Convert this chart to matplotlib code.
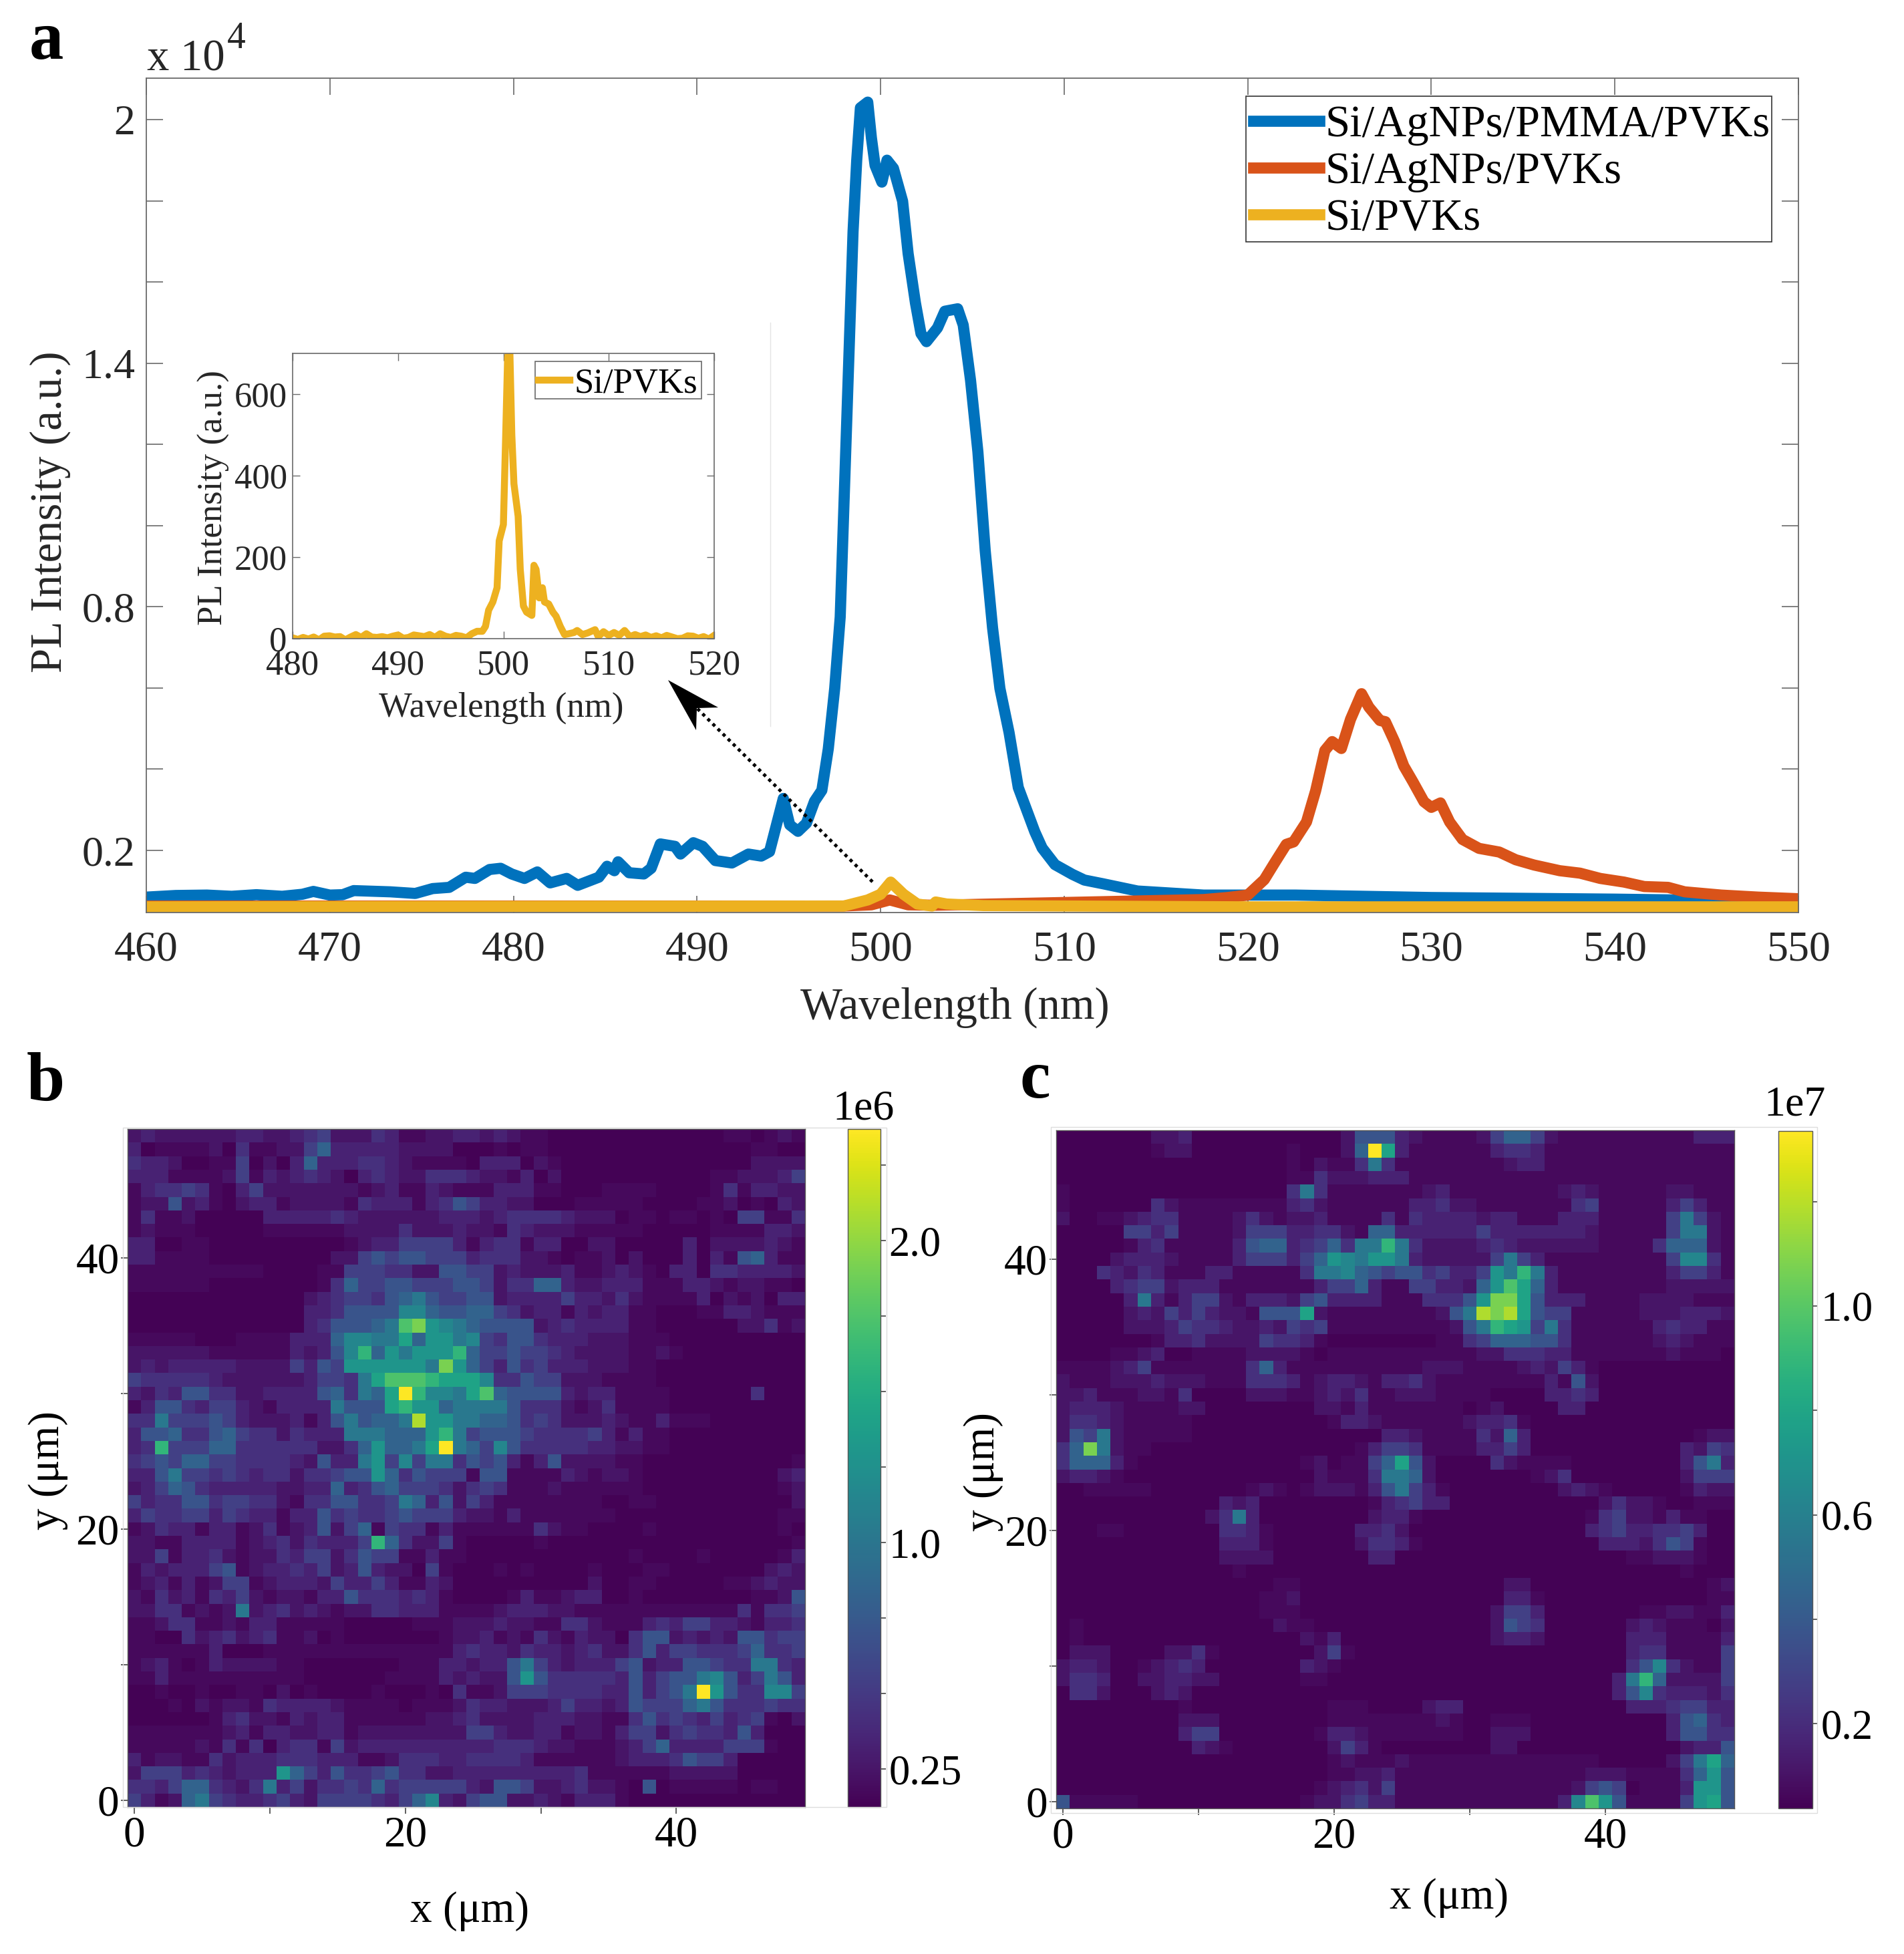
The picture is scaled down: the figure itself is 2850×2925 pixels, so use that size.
import matplotlib
matplotlib.use("Agg")
import matplotlib.pyplot as plt
import numpy as np
from matplotlib.lines import Line2D
from matplotlib.patches import Polygon, Rectangle
from matplotlib.ticker import FixedLocator, FixedFormatter

plt.rcParams["font.family"] = ["Liberation Serif", "DejaVu Serif"]

W, H = 2850, 2925
BLUE = "#0072BD"
ORANGE = "#D95319"
YELLOW = "#EDB120"
TXT = "#262626"
EDGE = "#6a6a6a"

# main spectra, intensity in units of 1e4
blue_x = [460, 461.6, 463.3, 464.65, 466, 467.4, 468.5, 469.1, 470, 470.7, 471.3, 473.3, 474.65, 475.6,
          476.5, 477.4, 477.9, 478.7, 479.3, 479.9, 480.6, 481.3, 482, 482.9, 483.5, 484.65, 485.1, 485.5,
          485.7, 486.3, 487.1, 487.5, 488, 488.8, 489.1, 489.8, 490.3, 491, 491.9, 492.8, 493.5, 493.95,
          494.7, 495.05, 495.5, 495.96, 496.4, 496.8, 497.15, 497.5, 497.8, 498, 498.3, 498.5, 498.7,
          498.9, 499.3, 499.5, 499.7, 500.07, 500.35, 500.7, 501.2, 501.5, 501.9, 502.2, 502.5, 503.1,
          503.5, 504.2, 504.5, 504.9, 505.3, 505.7, 506.1, 506.5, 507, 507.5, 508.4, 508.8, 509.5, 510.45,
          511.1, 512.1, 514, 517.6, 522.6, 530, 540, 545, 550]
blue_y = [.085, .089, .090, .087, .091, .087, .092, .099, .090, .091, .101, .098, .094, .106,
          .109, .134, .131, .153, .156, .142, .131, .147, .120, .131, .114, .134, .161, .150,
          .172, .145, .142, .156, .216, .210, .191, .219, .210, .175, .169, .191, .186, .197,
          .328, .263, .247, .267, .321, .348, .450, .599, .775, 1.046, 1.453, 1.724, 1.9,
          2.029, 2.043, 1.955, 1.887, 1.846, 1.9, 1.88, 1.799, 1.67, 1.548, 1.473, 1.453, 1.487,
          1.528, 1.534, 1.494, 1.358, 1.182, .938, .748, .599, .49, .355, .246, .206, .165, .141,
          .127, .118, .1, .09, .09, .084, .08, .077, .072]

orange_x = [460, 498, 499.5, 500.5, 501.5, 503, 517.6, 518.9, 520, 520.9, 521.5, 522.1, 522.5, 523.2, 523.7,
            524.2, 524.6, 525.1, 525.6, 526.2, 526.6, 527.2, 527.5, 528, 528.5, 529, 529.6, 530, 530.5,
            531, 531.7, 532.6, 533.7, 534.6, 535.6, 537, 538.1, 539.2, 540.5, 541.6, 542.9, 543.8, 545.8,
            547.8, 550]
orange_y = [.063, .063, .066, .078, .066, .065, .079, .084, .09, .128, .172, .215, .221, .27, .347,
            .446, .468, .451, .523, .586, .553, .52, .517, .468, .408, .369, .32, .306, .317,
            .27, .227, .205, .196, .177, .164, .15, .144, .131, .122, .111, .109, .098, .09,
            .085, .081]

yellow_x = [460, 498, 499.3, 500, 500.55, 501.25, 502, 502.8, 503, 503.6, 505.6, 520, 550]
yellow_y = [.061, .063, .078, .092, .122, .092, .068, .063, .073, .068, .064, .061, .061]

# inset, Si/PVKs only
inset_x = [480, 480.5, 481, 481.5, 482, 482.5, 483, 483.5, 484, 484.5, 485, 485.5, 486, 486.5, 487, 487.5,
           488, 488.5, 489, 489.5, 490, 490.5, 491, 491.5, 492, 492.5, 493, 493.5, 494, 494.5, 495, 495.5,
           496, 496.5, 497, 497.5, 498, 498.3, 498.6, 499, 499.4, 499.6, 500, 500.2, 500.4, 500.6, 500.8,
           501, 501.4, 501.6, 501.9, 502.2, 502.7, 502.9, 503.1, 503.4, 503.7, 503.9, 504.3, 504.7, 505,
           505.4, 505.8, 506.2, 506.7, 507, 507.5, 508, 508.7, 509, 509.5, 510, 510.5, 511, 511.5, 512,
           512.5, 513, 513.5, 514, 514.5, 515, 515.5, 516, 516.5, 517, 517.5, 518, 518.5, 519, 519.5, 520]
inset_y = [2, -2, 3, -1, 4, -3, 6, 7, 4, 5, -3, 4, 10, 3, 12, 4,
           3, 5, 2, 6, 9, 1, 3, 9, 7, 5, 10, 3, 12, 6, 3, 8,
           6, 2, 12, 18, 18, 30, 70, 90, 125, 240, 280, 480, 690, 720, 500,
           380, 300, 170, 80, 65, 57, 180, 170, 100, 125, 90, 85, 65, 55,
           30, 10, 12, 15, 20, 10, 14, 22, 5, 17, 8, 15, 8, 20, 5,
           10, 5, 9, 3, 7, 2, 8, 4, 0, 1, 7, 6, 1, 5, -1, 8]

# colour levels, top row (y=49) first
LEVEL = dict(zip("0123456789abcdefg",
                 [.005, .025, .055, .095, .14, .19, .26, .32, .4, .46, .52, .58, .66, .72, .8, .88, 1]))

map_b = """
2322222233 2234522243 1122332321 1000000000 0000110121
3011112041 1225733333 2222000101 1000000000 0000001100
4332001150 2037333443 2111103330 2100000000 0000002222
3331111251 3234320343 2244432213 0200000000 0001122235
1344541035 2222222123 1132111333 1100011110 0001413322
1226231023 3122221433 3134653322 0001111100 0011201032
1411200000 3333343222 2223332344 4432220110 1101055114
1211100000 1111112222 4222322143 2221111100 0001111332
3300110000 0000001233 5555313441 3300220000 0302222321
3311110000 0000022565 6655534442 2101120200 0303167311
1111111111 0000115554 4226655232 2231123210 3304433332
1111110000 0000147556 6555665244 7732233311 1332122110
0000000000 0002345546 7865566233 3353324211 1130212033
0000000000 0003346666 9976677542 3313233110 0011332111
0000000000 0003466678 dea9876666 2343333110 0000022412
1111100011 1133379988 b7aa895466 4333222111 0000000000
2222221111 1132369c7a 8aaac75565 5432222112 1000000000
2323333322 225365aaaa aa8ea75364 5333222110 0000000000
5444443222 22235548bd ddcbbb9446 5522211110 0000000000
3243664422 333367487b gc998bd766 6632331111 0000004000
1366435532 133338666b caa7888864 4421241111 0000000000
4485556532 2231368677 8faa887764 5422232113 1110000000
3667446754 4243338887 77ac856665 4444531311 0000000000
34c5557744 44442247a7 78bg875964 4444332211 0000000000
4565775544 44326338a5 9588465631 3622221100 0000000001
3368554543 44244566a7 4655516611 1132122100 0000000023
2357643333 3223373467 5554245411 1211111100 0000000012
5344664554 4214466445 8736253111 1111100110 0000000002
3544553543 3133645445 6555322131 1111110000 0000000011
1243313312 4123625715 4413111111 4211000010 0000000010
2211333312 34243335c7 4225100000 1000000000 0000000001
2251334212 2435524655 1131100000 0000000100 0010000013
1323335612 3343523632 2051000101 0000100011 0000000232
1231312551 2333253353 1132000000 0000200110 0000112322
2142314352 1221336444 3431000013 1123300100 0000001126
2244121282 3423212244 3331111233 3221111111 1111141445
1124411213 3111110000 0111222322 1144211134 3553321334
1100423423 4112010000 0001223121 4213220466 2323266455
1111113000 1111111111 1111343324 3323422463 5544457445
1231013222 2110000000 1113323368 5323335623 3665448843
1131111111 1110000001 111323226a 6444443635 6689635863
0010010011 0201000010 0010411255 5444433635 68ga644995
0001021221 4333321111 0111243322 2353323655 5786444544
0000001342 2132331111 1122342222 3332211464 5435345102
1111111231 3322331222 2222255322 3312213552 4544363000
1111121414 0344152333 3333333444 3221112357 3333555100
3122114233 3444333112 4443344443 1111112333 4655300000
2555343233 3a75364456 4422333333 3334111111 2222200000
4435774324 8352445474 5555532665 2234221060 1111101100
5312785433 4532555543 5793256622 3213331000 0000000000
"""

map_c = """
0000000223 0000000000 0266632111 1257752111 1111111333
0000000122 0000000100 027gb31111 1134431111 1111111111
0000000000 0000000102 1148411111 1112331111 1111111111
0000000000 0000000114 2223331111 1111111111 1111111111
1000000000 0000000484 1111111231 1111111232 1111122111
1000000421 1111111342 1111113342 2111111145 1111135311
2001123441 1112421223 1111414333 3233111333 1111158521
0000055351 1112555334 4217733333 3533333332 1111158821
0000013411 1113677345 7488c84222 2343222222 1111477721
0000233321 1113555357 a98aa83222 2258531111 1111159941
0004324311 1331111148 8976566453 35a8c83111 1111135531
0000345523 3311111113 5573115533 27adb73111 1111122222
0000038313 5521333256 3333111444 6aeeb63331 1112222111
0000023253 53221666b2 1111111126 8fefb65511 1112223332
0000022235 4432232545 1111111112 68cba58411 1111343311
0000000133 4222254431 0000000011 4577766411 1111232111
0000112300 1111222210 1111111111 1224443311 1111121110
1111235111 1111473111 1111111222 1111232531 0000000000
2111222322 2111444312 3321334211 1111113162 0000000000
2231112214 0000222112 3241122211 1100003343 0000000000
2333211112 2000000002 2131111111 0120000330 0000000000
2443211111 0000000000 1332111111 2334100000 0000000000
2658211111 0000000000 0000332111 1427300000 0000000122
47e8211000 0000000000 0013554111 1335300000 0000003254
4777310000 0000000012 01157b6200 0042111100 0000003683
2332100000 0000000002 1114887200 0000012400 0000002555
0011111000 0000121012 2213685310 0000000232 1000001322
0000000000 0032300000 0001345330 0000000000 2422100111
0000000000 0248300000 0002331000 0000000001 4522131100
0001100000 0044310000 0033420000 0000000003 4533445300
0000000000 0033310000 0024431000 0000000000 3332465100
0000000000 0022220000 0003300000 0000000000 0011222100
0000000000 0001000000 0000000000 0000000000 0000001000
0000000000 0000001100 0000000000 0002200000 0000000012
0000000000 0000011200 0000000000 0003310000 0000000011
0000000000 0000011100 0000000000 0025530000 0001122113
0100000000 0000002110 0000000000 0026540000 0023211102
0100000000 0000000021 3000000000 0023320000 0033311113
0222000022 4100000002 5100000000 0000000000 0034411115
2332001234 3000000032 1000000000 0000000000 0046942115
2443002233 2200000011 0000000000 0000000000 038c722225
0442000232 0000000000 0000000000 0000000000 0369433324
0000000001 0000000000 1110000233 0000000000 0033345533
0000000002 2200000000 1111111121 0011100000 0000036743
0000000003 5500000001 3321111111 0022200000 0000036644
0000000000 3210000000 2531000000 0022000000 0000002336
0000000000 0000000000 1211121111 1111111111 00000258b7
0000000000 0000000000 1122311111 1111111112 22111147a6
0000000000 0000000001 2342511111 1111111125 6501113aa6
6111110000 0000000012 2453311111 111111139d a611115ab6
"""

b_lim = (0.124, 2.37)
c_lim = (0.038, 1.335)
b_ticks = [0.25, 0.5, 0.75, 1.0, 1.25, 1.5, 1.75, 2.0, 2.25]
b_labels = ["0.25", "", "", "1.0", "", "", "", "2.0", ""]
c_ticks = [0.2, 0.4, 0.6, 0.8, 1.0, 1.2]
c_labels = ["0.2", "", "0.6", "", "1.0", ""]


def read_map(text, lim):
    rows = []
    for line in text.strip().splitlines():
        line = line.replace(" ", "")
        rows.append([lim[0] + LEVEL[ch] * (lim[1] - lim[0]) for ch in line])
    return np.array(rows)[::-1]


def box(left, top, right, bottom):
    return [left / W, 1 - bottom / H, (right - left) / W, (bottom - top) / H]


def put(x, y, s, **kw):
    kw.setdefault("ha", "center")
    kw.setdefault("va", "center")
    kw.setdefault("color", TXT)
    return fig.text(x / W, 1 - y / H, s, **kw)


def framed_legend(axes, frame, handle_xy, fontsize, hlen, spacing, edge, textpad=0.15):
    # legend box drawn by hand, the padding in the picture is not even on all sides
    bb = axes.get_position()
    to_ax = lambda x, y: ((x / W - bb.x0) / bb.width, (1 - y / H - bb.y0) / bb.height)
    x0, y1 = to_ax(frame[0], frame[1])
    x1, y0 = to_ax(frame[2], frame[3])
    axes.add_patch(Rectangle((x0, y0), x1 - x0, y1 - y0, transform=axes.transAxes, facecolor="white",
                             edgecolor=edge, linewidth=1.2, zorder=4))
    leg = axes.legend(loc="upper left", bbox_to_anchor=to_ax(*handle_xy), borderaxespad=0, borderpad=0,
                      fontsize=fontsize, handlelength=hlen, handletextpad=textpad, labelspacing=spacing,
                      frameon=False)
    leg.set_zorder(5)
    for t in leg.get_texts():
        t.set_color("black")
    return leg


def draw_map(rect, cbar_rect, text, lim, ticks, labels, power, frame, xlab_pos, ylab_pos, power_pos):
    fig.add_artist(Rectangle((frame[0] / W, 1 - frame[3] / H), (frame[2] - frame[0]) / W, (frame[3] - frame[1]) / H,
                             transform=fig.transFigure, fill=False, edgecolor="#dddddd", linewidth=1))
    ax = fig.add_axes(box(*rect))
    im = ax.imshow(read_map(text, lim), origin="lower", cmap="viridis", vmin=lim[0], vmax=lim[1],
                   aspect="auto", interpolation="nearest")
    ax.set_xticks([0, 10, 20, 30, 40])
    ax.set_xticklabels(["0", "", "20", "", "40"])
    ax.set_yticks([0, 10, 20, 30, 40])
    ax.set_yticklabels(["0", "", "20", "", "40"])
    ax.tick_params(labelsize=47, length=7, width=1.2, pad=2, color="#444444", labelcolor="black")
    for s in ax.spines.values():
        s.set_linewidth(1)
        s.set_color("#555555")
    cax = fig.add_axes(box(*cbar_rect))
    cb = fig.colorbar(im, cax=cax)
    cb.set_ticks(ticks)
    cb.set_ticklabels(labels)
    cax.tick_params(labelsize=45, length=6, width=1.2, pad=3, color="#444444", labelcolor="black")
    cb.outline.set_linewidth(1)
    cb.outline.set_edgecolor("#555555")
    put(xlab_pos[0], xlab_pos[1], "x (μm)", fontsize=47, color="black")
    put(ylab_pos[0], ylab_pos[1], "y (μm)", fontsize=47, color="black", rotation=90)
    put(power_pos[0], power_pos[1], power, fontsize=46, color="black")


fig = plt.figure(figsize=(W / 100, H / 100), dpi=100)

# panel a
ax = fig.add_axes(box(219, 117, 2692, 1366))
ax.plot(blue_x, blue_y, color=BLUE, lw=12, label="Si/AgNPs/PMMA/PVKs", solid_joinstyle="round")
ax.plot(orange_x, orange_y, color=ORANGE, lw=12, label="Si/AgNPs/PVKs", solid_joinstyle="round")
ax.plot(yellow_x, yellow_y, color=YELLOW, lw=12, label="Si/PVKs", solid_joinstyle="round")
ax.set_xlim(460, 550)
ax.set_ylim(0.047, 2.102)
ax.set_xticks(np.arange(460, 551, 10))
ax.yaxis.set_major_locator(FixedLocator([0.2, 0.4, 0.6, 0.8, 1.0, 1.2, 1.4, 1.6, 1.8, 2.0]))
ax.yaxis.set_major_formatter(FixedFormatter(["0.2", "", "", "0.8", "", "", "1.4", "", "", "2"]))
ax.tick_params(direction="in", top=True, right=True, length=18, width=1.2, color=EDGE, labelsize=46, labelcolor=TXT)
ax.tick_params(axis="x", pad=20)
ax.tick_params(axis="y", pad=12)
for s in ax.spines.values():
    s.set_linewidth(1.3)
    s.set_color(EDGE)
framed_legend(ax, (1865, 144, 2652, 362), (1876, 157), 48, 1.48, 0.14, "#333333", textpad=0.135)

put(1429, 1508, "Wavelength (nm)", fontsize=48)
put(75, 766, "PL Intensity (a.u.)", fontsize=48, rotation=90)
put(220, 105, "x 10", fontsize=48, ha="left", va="baseline")
put(340, 72, "4", fontsize=40, ha="left", va="baseline")
put(69, 88, "a", fontsize=74, fontweight="bold", color="black", va="baseline")
put(68, 1622, "b", fontsize=74, fontweight="bold", color="black")
put(1549, 1618, "c", fontsize=74, fontweight="bold", color="black")

# thin leftover line next to the inset
fig.add_artist(Line2D([1153 / W, 1153 / W], [1 - 483 / H, 1 - 1087 / H], transform=fig.transFigure,
                      color="#e4e4e4", lw=1))

# inset
axi = fig.add_axes(box(438, 529, 1069, 956))
axi.plot(inset_x, inset_y, color=YELLOW, lw=7.5, label="Si/PVKs", solid_joinstyle="round")
axi.set_xlim(480, 520)
axi.set_ylim(0, 700)
axi.set_xticks([480, 490, 500, 510, 520])
axi.set_yticks([0, 200, 400, 600])
axi.tick_params(direction="in", top=True, right=True, length=8, width=1, color=EDGE, labelsize=38, labelcolor=TXT)
axi.tick_params(axis="x", pad=12)
axi.tick_params(axis="y", pad=6)
for s in axi.spines.values():
    s.set_linewidth(1.2)
    s.set_color(EDGE)
framed_legend(axi, (801, 541, 1050, 597), (806, 550), 38, 0.89, 0, EDGE, textpad=0.12)
put(750, 1060, "Wavelength (nm)", fontsize=38)
put(320, 745, "PL Intensity (a.u.)", fontsize=38, rotation=90)

# arrow from the small peak up to the inset
fig.add_artist(Line2D([1306 / W, 1043 / W], [1 - 1320 / H, 1 - 1060 / H], transform=fig.transFigure,
                      color="black", lw=3.5, linestyle=(0, (1, 1.2))))
head = [(1000, 1018), (1075, 1059), (1043, 1060), (1042, 1093)]
fig.add_artist(Polygon([(x / W, 1 - y / H) for x, y in head], closed=True, transform=fig.transFigure,
                       facecolor="black", edgecolor="none"))

# panels b and c
draw_map((191, 1690, 1205, 2705), (1269, 1690, 1318, 2705), map_b, b_lim, b_ticks, b_labels, "1e6",
         (184, 1688, 1327, 2705), (703, 2861), (72, 2201), (1292, 1660))
draw_map((1581, 1692, 2596, 2707), (2662, 1693, 2713, 2707), map_c, c_lim, c_ticks, c_labels, "1e7",
         (1573, 1687, 2720, 2714), (2169, 2841), (1472, 2203), (2687, 1654))

fig.savefig("out.png", dpi=100)
